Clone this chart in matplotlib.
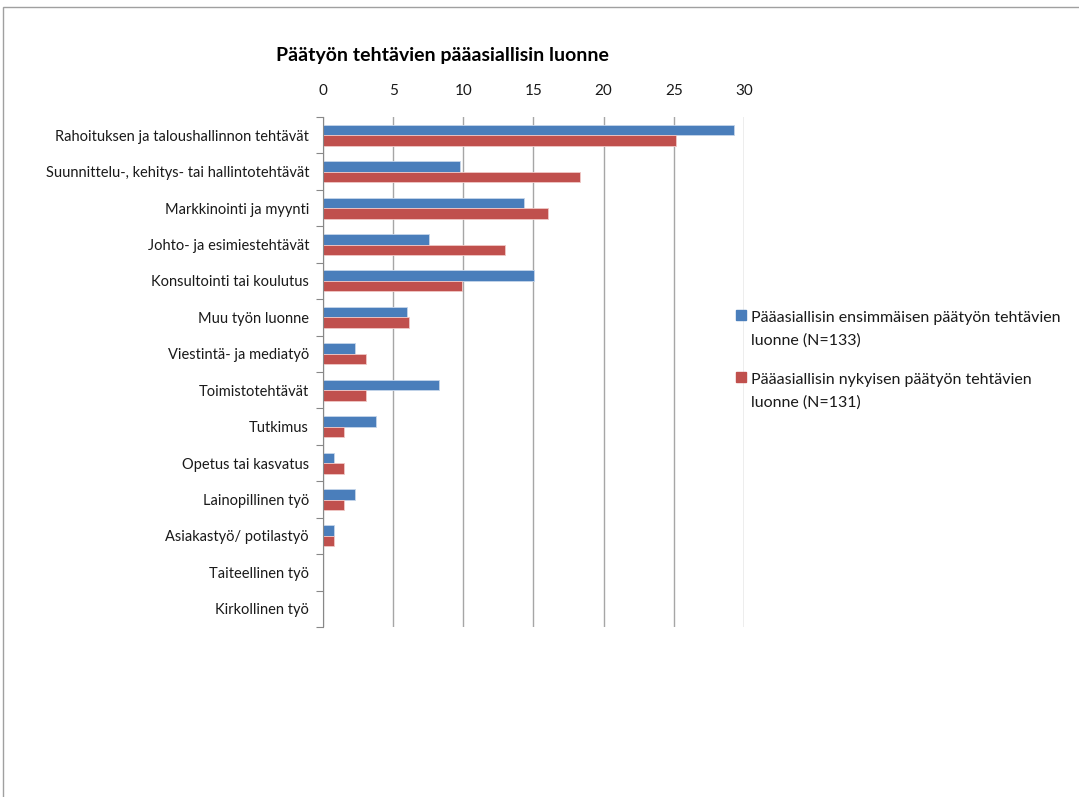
import numpy as np
import matplotlib.pyplot as plt
from matplotlib.patches import Rectangle

categories = [
    "Rahoituksen ja taloushallinnon tehtävät",
    "Suunnittelu-, kehitys- tai hallintotehtävät",
    "Markkinointi ja myynti",
    "Johto- ja esimiestehtävät",
    "Konsultointi tai koulutus",
    "Muu työn luonne",
    "Viestintä- ja mediatyö",
    "Toimistotehtävät",
    "Tutkimus",
    "Opetus tai kasvatus",
    "Lainopillinen työ",
    "Asiakastyö/ potilastyö",
    "Taiteellinen työ",
    "Kirkollinen työ",
]
first_job = [29.32, 9.77, 14.29, 7.52, 15.04, 6.02, 2.26, 8.27, 3.76, 0.75, 2.26, 0.75, 0, 0]
current_job = [25.19, 18.32, 16.03, 12.98, 9.92, 6.11, 3.05, 3.05, 1.53, 1.53, 1.53, 0.76, 0, 0]
series_names = [
    "Pääasiallisin ensimmäisen päätyön tehtävien\nluonne (N=133)",
    "Pääasiallisin nykyisen päätyön tehtävien\nluonne (N=131)",
]
xticks = [0, 5, 10, 15, 20, 25, 30]
title = "Päätyön tehtävien pääasiallisin luonne"

plt.rcParams['font.family'] = ['Lato', 'DejaVu Sans']

fig = plt.figure(figsize=(10.79, 7.97), dpi=100)
W, H = 1079, 797
ax = fig.add_axes([323 / W, 1 - 627 / H, (744 - 323) / W, (627 - 117) / H])

# outer chart border
fig.patches.append(Rectangle((3 / W, -0.1), 1.2, 1 - 7 / H + 0.1, transform=fig.transFigure,
                             fill=False, edgecolor='#a0a0a0', linewidth=1.0))

y = np.arange(len(categories))
h = 0.29
blue = '#4a7ebb'
red = '#c0504d'
colors = [blue, red]
ax.barh(y - h / 2, first_job, height=h, color=blue, edgecolor='#c5d5ea', linewidth=0.6)
ax.barh(y + h / 2, current_job, height=h, color=red, edgecolor='#f0c8c6', linewidth=0.6)

ax.set_ylim(len(categories) - 0.5, -0.5)
ax.set_xlim(0, 30)
ax.set_yticks(y)
ax.set_yticklabels(categories, fontsize=10.5, color='#1a1a1a')
ax.set_yticks(np.arange(-0.5, len(categories)), minor=True)
ax.tick_params(axis='y', which='major', length=0, pad=10)
ax.tick_params(axis='y', which='minor', length=5, color='#888888', width=0.8)

ax.xaxis.tick_top()
ax.set_xticks(xticks)
ax.tick_params(axis='x', length=0, labelsize=11, pad=14, colors='#1a1a1a')
ax.grid(axis='x', color='#a6a6a6', linewidth=1.0)
ax.set_axisbelow(True)

for s in ['top', 'right', 'bottom']:
    ax.spines[s].set_visible(False)
ax.spines['left'].set_color('#888888')

fig.text(442 / W, 1 - 55 / H, title, ha='center', va='center', fontsize=14, fontweight='bold')

# legend: marker next to first line of each wrapped label
for i, (name, c) in enumerate(zip(series_names, colors)):
    top = 310 + i * 62
    fig.patches.append(Rectangle((736 / W, 1 - (top + 10) / H), 10 / W, 10 / H,
                                 transform=fig.transFigure, color=c))
    fig.text(751 / W, 1 - (top + 1) / H, name, ha='left', va='top', fontsize=11.5,
             color='#1a1a1a', linespacing=1.75)

fig.savefig('out.png', dpi=100)
